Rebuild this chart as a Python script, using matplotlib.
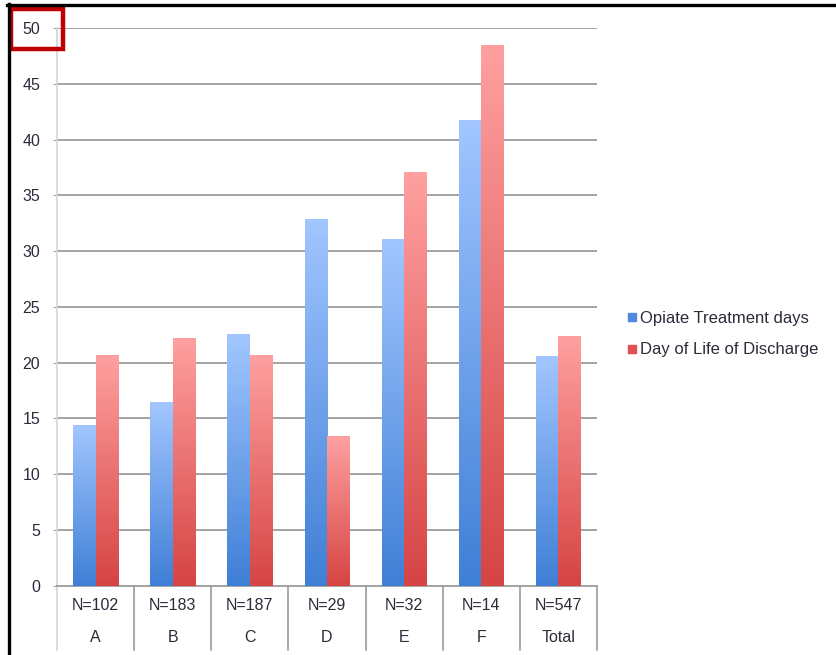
import numpy as np
import matplotlib
matplotlib.use('Agg')
import matplotlib.pyplot as plt
from matplotlib.lines import Line2D
from matplotlib.patches import Rectangle
import matplotlib.transforms as mtransforms
from matplotlib.colors import LinearSegmentedColormap

plt.rcParams['font.family'] = ['Liberation Sans', 'DejaVu Sans']

groups = ['A', 'B', 'C', 'D', 'E', 'F', 'Total']
n_labels = ['N=102', 'N=183', 'N=187', 'N=29', 'N=32', 'N=14', 'N=547']
opiate_days = [14.4, 16.5, 22.6, 32.9, 31.1, 41.8, 20.6]
discharge_day = [20.7, 22.2, 20.7, 13.4, 37.1, 48.5, 22.4]
series_names = ['Opiate Treatment days', 'Day of Life of Discharge']

W, H = 836, 655
fig = plt.figure(figsize=(W / 100, H / 100), dpi=100)
ax = fig.add_axes([57 / W, 1 - 585.6 / H, 540 / W, 557.3 / H])

text_col = '#2e2a3a'
blue_cmap = LinearSegmentedColormap.from_list('b', ['#3f7fd6', '#a2c6ff'])
red_cmap = LinearSegmentedColormap.from_list('r', ['#d64444', '#ffa0a0'])

x = np.arange(len(groups))
bw = 0.29
bars_b = ax.bar(x - bw / 2, opiate_days, bw, color='#7fa9ea', zorder=3)
bars_r = ax.bar(x + bw / 2, discharge_day, bw, color='#f07a7a', zorder=3)

# vertical gradient fill for every bar
grad = np.linspace(0, 1, 256).reshape(-1, 1)
for bars, cmap in ((bars_b, blue_cmap), (bars_r, red_cmap)):
    for b in bars:
        x0, w, h = b.get_x(), b.get_width(), b.get_height()
        b.set_alpha(0)
        ax.imshow(grad, cmap=cmap, origin='lower', aspect='auto',
                  extent=[x0, x0 + w, 0, h], zorder=3)

ax.set_xlim(-0.5, len(groups) - 0.5)
ax.set_ylim(0, 50)
ax.set_yticks(np.arange(0, 51, 5))
ax.yaxis.grid(True, color='#a3a3a3', linewidth=1.4, zorder=0)
ax.set_axisbelow(True)
ax.tick_params(axis='y', length=3, color='#a3a3a3', labelsize=11.5,
               labelcolor=text_col, pad=9)
ax.set_xticks([])
for s in ['top', 'right']:
    ax.spines[s].set_visible(False)
ax.spines['bottom'].set_color('#a3a3a3')
ax.spines['bottom'].set_linewidth(1.4)
ax.spines['left'].set_color('#d4d4d4')
ax.spines['left'].set_linewidth(1.2)

# category table below the axis
trans = mtransforms.blended_transform_factory(ax.transData, ax.transAxes)
ybot = -(650 - 585.6) / 557.3
for i in range(len(groups) + 1):
    col = '#d4d4d4' if i == 0 else '#9a9a9a'
    ax.plot([i - 0.5, i - 0.5], [0, ybot], transform=trans, color=col,
            linewidth=1.2, clip_on=False)
for i, (g, n) in enumerate(zip(groups, n_labels)):
    ax.text(i, -(605 - 585.6) / 557.3, n, transform=trans, ha='center',
            va='center', fontsize=11.5, color=text_col)
    ax.text(i, -(637 - 585.6) / 557.3, g, transform=trans, ha='center',
            va='center', fontsize=11.5, color=text_col)

handles = [Line2D([], [], marker='s', linestyle='none', markersize=5.5,
                  color='#4f8ae0'),
           Line2D([], [], marker='s', linestyle='none', markersize=5.5,
                  color='#e05050')]
fig.legend(handles, series_names, loc='center left',
           bbox_to_anchor=(628 / W, 1 - 334 / H), frameon=False,
           fontsize=12, handlelength=0.5, handletextpad=0.25,
           labelspacing=1.0, borderaxespad=0, borderpad=0,
           labelcolor=text_col)

# frame lines and red highlight box
fig.add_artist(Line2D([8.5 / W, 8.5 / W], [0, 1 - 4 / H],
                      transform=fig.transFigure, color='black', linewidth=2.4))
fig.add_artist(Line2D([7 / W, 1], [1 - 5 / H, 1 - 5 / H],
                      transform=fig.transFigure, color='black', linewidth=2.4))
fig.add_artist(Rectangle((10.5 / W, 1 - 48.5 / H), 52 / W, 39 / H,
                         transform=fig.transFigure, fill=False,
                         edgecolor='#c00000', linewidth=3.2))

fig.savefig('out.png', dpi=100)
